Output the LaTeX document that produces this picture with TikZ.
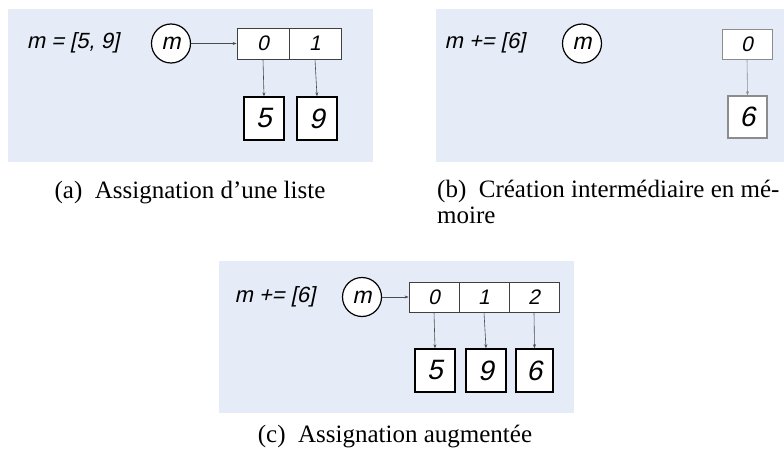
\documentclass[tikz,border=0pt]{standalone}
\usepackage{fontspec}
\setmainfont{Liberation Serif}
\newfontfamily\diagfont{Liberation Sans}[FakeSlant=0.21]
\usetikzlibrary{arrows.meta, positioning}
\definecolor{panelblue}{RGB}{230,236,247}
\definecolor{faintgray}{RGB}{140,140,140}

\begin{document}
\begin{tikzpicture}[x=1pt, y=-1pt, >={Stealth[length=4pt, width=3pt]},
  panel/.style={fill=panelblue, draw=none},
  code/.style={font=\diagfont\fontsize{22}{26}\selectfont},
  var/.style={draw, circle, line width=1.2pt, minimum size=39pt, inner sep=0pt, fill=white, font=\diagfont\fontsize{23}{26}\selectfont},
  cell/.style={draw=black!75, line width=0.8pt, fill=white, minimum width=52pt, minimum height=31pt, inner sep=0pt, font=\diagfont\fontsize{21}{25}\selectfont},
  val/.style={draw, line width=1.4pt, fill=white, minimum width=40pt, minimum height=43pt, inner sep=0pt, font=\diagfont\fontsize{28}{32}\selectfont},
  ptr/.style={->, draw=black!70, line width=0.6pt},
  legend/.style={font=\fontsize{25}{26}\selectfont}]
  \useasboundingbox (0,0) rectangle (784,457);

  % (a) list assignment
  \fill[panel] (8,9) rectangle (373,162);
  \node[code] (codeA) at (73,43) {m = [5, 9]};
  \node[var] (mA) at (171,43.5) {m};
  \node[cell] (cellA0) at (263,43.5) {0};
  \node[cell] (cellA1) at (315,43.5) {1};
  \node[val] (valA5) at (264,118.5) {5};
  \node[val] (valA9) at (317,118.5) {9};
  \draw[ptr] (mA) -- (cellA0);
  \draw[ptr] (cellA0.south) -- (valA5.north);
  \draw[ptr] (cellA1.south) -- (valA9.north);
  \node[legend] (capA) at (190,193) {(a)\enspace Assignation d’une liste};

  % (b) intermediate object
  \fill[panel] (436,9) rectangle (784,162);
  \node[code] (codeB) at (485,43) {m += [6]};
  \node[var] (mB) at (582,43.5) {m};
  \node[cell, draw=faintgray, minimum width=50pt, minimum height=30pt] (cellB0) at (747,44) {0};
  \node[val, draw=faintgray, minimum width=39pt, minimum height=42pt] (valB6) at (747.5,117) {6};
  \draw[ptr, draw=faintgray] (cellB0.south) -- (valB6.north);
  \node[legend, anchor=north west, align=left, inner sep=0pt] (capB) at (437,180) {(b)\enspace Création intermédiaire en mé-\\moire};

  % (c) augmented assignment
  \fill[panel] (219,261) rectangle (574,413);
  \node[code] (codeC) at (275,297) {m += [6]};
  \node[var] (mC) at (362,297) {m};
  \node[cell, minimum width=50pt, minimum height=30pt] (cellC0) at (434,297) {0};
  \node[cell, minimum width=50pt, minimum height=30pt] (cellC1) at (484,297) {1};
  \node[cell, minimum width=50pt, minimum height=30pt] (cellC2) at (534,297) {2};
  \node[val] (valC5) at (435,370.5) {5};
  \node[val] (valC9) at (486,370.5) {9};
  \node[val, minimum width=37pt] (valC6) at (534.5,370.5) {6};
  \draw[ptr] (mC) -- (cellC0);
  \draw[ptr] (cellC0.south) -- (valC5.north);
  \draw[ptr] (cellC1.south) -- (valC9.north);
  \draw[ptr] (cellC2.south) -- (valC6.north);
  \node[legend] (capC) at (395,437) {(c)\enspace Assignation augmentée};
\end{tikzpicture}
\end{document}
